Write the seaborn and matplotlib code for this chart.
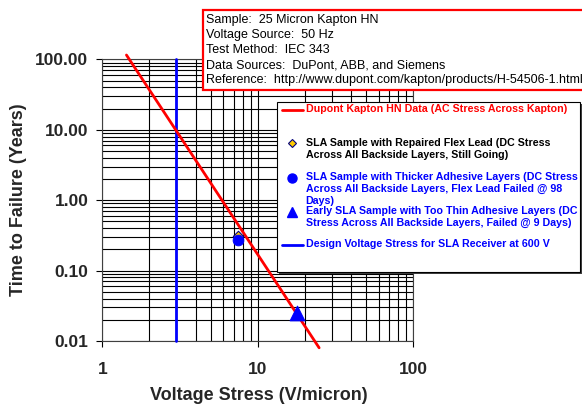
import matplotlib
matplotlib.use("Agg")
import matplotlib.pyplot as plt
import matplotlib.ticker as mticker
from matplotlib.patches import Rectangle
from matplotlib.lines import Line2D
import numpy as np
import pandas as pd
import seaborn as sns

# ---------------- data ----------------
kapton_stress = [1.43, 24.8]          # V/micron
kapton_years = [115.0, 0.008]         # years
repaired_stress = [7.5]
repaired_years = [0.31]
thicker_stress = [7.5]
thicker_years = [0.268]
thin_stress = [17.9]
thin_years = [0.0246]
design_stress = [3.0, 3.0]
design_years = [0.01, 100.0]

x_ticks = [1, 10, 100]
y_ticks = [0.01, 0.1, 1, 10, 100]

info_lines = [
    "Sample:  25 Micron Kapton HN",
    "Voltage Source:  50 Hz",
    "Test Method:  IEC 343",
    "Data Sources:  DuPont, ABB, and Siemens",
    "Reference:  http://www.dupont.com/kapton/products/H-54506-1.html",
]
legend_labels = [
    "Dupont Kapton HN Data (AC Stress Across Kapton)",
    "SLA Sample with Repaired Flex Lead (DC Stress\nAcross All Backside Layers, Still Going)",
    "SLA Sample with Thicker Adhesive Layers (DC Stress\nAcross All Backside Layers, Flex Lead Failed @ 98\nDays)",
    "Early SLA Sample with Too Thin Adhesive Layers (DC\nStress Across All Backside Layers, Failed @ 9 Days)",
    "Design Voltage Stress for SLA Receiver at 600 V",
]

# ---------------- style ----------------
sns.set_style("ticks")
plt.rcParams["font.family"] = ["Liberation Sans", "DejaVu Sans"]

W, H = 582, 405
fig = plt.figure(figsize=(W / 100, H / 100), dpi=100)
ax = fig.add_axes([102.3 / W, 1 - 341 / H, (413.3 - 102.3) / W, (341 - 59.3) / H])

RED = "#FF0000"
BLUE = "#0000FF"
GOLD = "#FFCC00"

ax.set_xscale("log")
ax.set_yscale("log")

sns.lineplot(x=design_stress, y=design_years, estimator=None, sort=False,
             color=BLUE, lw=2, ax=ax, zorder=3)
sns.lineplot(x=kapton_stress, y=kapton_years, estimator=None, sort=False,
             color=RED, lw=2, ax=ax, zorder=4)
for ln in ax.lines:
    ln.set_clip_on(False)

sns.scatterplot(x=repaired_stress, y=repaired_years, marker="D", s=28,
                color=GOLD, edgecolor="#000080", linewidth=0.8, ax=ax, zorder=5)
sns.scatterplot(x=thicker_stress, y=thicker_years, marker="o", s=60,
                color=BLUE, edgecolor=BLUE, ax=ax, zorder=6)
sns.scatterplot(x=thin_stress, y=thin_years, marker="^", s=110,
                color=BLUE, edgecolor=BLUE, ax=ax, zorder=6)

ax.set_xlim(1, 100)
ax.set_ylim(0.01, 100)
ax.set_xticks(x_ticks)
ax.set_yticks(y_ticks)
ax.xaxis.set_major_formatter(mticker.FuncFormatter(lambda v, p: f"{v:g}"))
ax.yaxis.set_major_formatter(mticker.FuncFormatter(lambda v, p: f"{v:.2f}"))
ax.xaxis.set_minor_locator(mticker.LogLocator(base=10, subs=np.arange(2, 10)))
ax.yaxis.set_minor_locator(mticker.LogLocator(base=10, subs=np.arange(2, 10)))
ax.xaxis.set_minor_formatter(mticker.NullFormatter())
ax.yaxis.set_minor_formatter(mticker.NullFormatter())

ax.grid(True, which="both", color="black", lw=0.8)
ax.set_axisbelow(True)
ax.tick_params(axis="both", which="major", length=4, width=0.8, color="black",
               labelsize=12.5)
ax.tick_params(axis="y", which="major", pad=6)
ax.tick_params(axis="x", which="major", pad=11)
ax.tick_params(which="minor", length=0)
for lab in ax.get_xticklabels() + ax.get_yticklabels():
    lab.set_fontweight("bold")
for s in ax.spines.values():
    s.set_color("#404040")
    s.set_linewidth(0.8)

ax.set_xlabel("Voltage Stress (V/micron)", fontsize=13, fontweight="bold")
ax.set_ylabel("Time to Failure (Years)", fontsize=13, fontweight="bold")
ax.xaxis.label.set_va("center")
ax.yaxis.label.set_va("center")
ax.xaxis.set_label_coords((258.5 - 102.3) / 311.0, -(395 - 341) / 281.7)
ax.yaxis.set_label_coords(-(102.3 - 18) / 311.0, 0.5)


def fx(px):
    return px / W


def fy(py):
    return 1 - py / H


# ---------------- info box ----------------
fig.patches.append(Rectangle((fx(203), fy(90)), fx(585) - fx(203), fy(10) - fy(90),
                             transform=fig.transFigure, facecolor="white",
                             edgecolor=RED, lw=1.6, zorder=10))
info_y = [20, 35, 50, 65, 80]
for t, yy in zip(info_lines, info_y):
    fig.text(fx(206.5), fy(yy), t, fontsize=9, va="center", ha="left",
             color="black", zorder=11)

# ---------------- legend box ----------------
fig.patches.append(Rectangle((fx(279), fy(274)), fx(582) - fx(279), fy(104) - fy(274),
                             transform=fig.transFigure, facecolor="#404040",
                             edgecolor="none", zorder=10))
fig.patches.append(Rectangle((fx(277), fy(271.5)), fx(580) - fx(277), fy(102) - fy(271.5),
                             transform=fig.transFigure, facecolor="white",
                             edgecolor="black", lw=0.8, zorder=11))

leg_colors = [RED, "black", BLUE, BLUE, BLUE]
leg_y = [110, 143.3, 177.7, 211.7, 245]
for lab, c, yy in zip(legend_labels, leg_colors, leg_y):
    fig.text(fx(305.5), fy(yy - 5.8), lab, fontsize=7.7, fontweight="bold",
             color=c, va="top", ha="left", linespacing=1.25, zorder=12)

handles = [
    Line2D([fx(282), fx(303)], [fy(110), fy(110)], color=RED, lw=2),
    Line2D([fx(292.3)], [fy(143.3)], marker="D", ms=4.5, color=GOLD,
           markeredgecolor="#000080", mew=0.8, ls="none"),
    Line2D([fx(292.3)], [fy(177.7)], marker="o", ms=6.5, color=BLUE, ls="none"),
    Line2D([fx(292.3)], [fy(211.7)], marker="^", ms=7, color=BLUE, ls="none"),
    Line2D([fx(282), fx(303)], [fy(245), fy(245)], color=BLUE, lw=2),
]
for h in handles:
    h.set_transform(fig.transFigure)
    h.set_zorder(12)
    fig.lines.append(h)

fig.savefig("out.png", dpi=100)
